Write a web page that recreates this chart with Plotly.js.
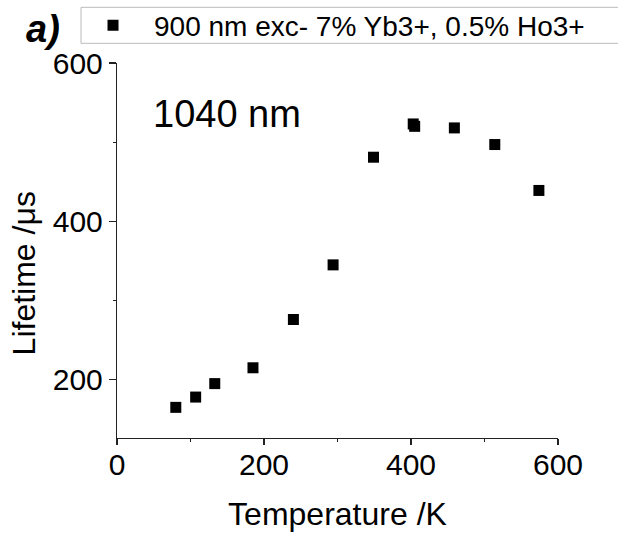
<!DOCTYPE html>
<html>
<head>
<meta charset="utf-8">
<script src="https://cdn.plot.ly/plotly-3.0.1.min.js"></script>
<style>html,body{margin:0;padding:0;background:#fff;}#chart{width:618px;height:535px;}</style>
</head>
<body>
<div id="chart"></div>
<script>
// Data
const temperatureK = [80, 107, 133, 185, 240, 294, 349, 403, 405, 459, 514, 574];
const lifetimeUs   = [165, 178, 195, 215, 276, 345, 481, 523, 520, 518, 497, 439];
const seriesName = "900 nm exc- 7% Yb3+, 0.5% Ho3+";
const xTickVals = [0, 200, 400, 600];
const yTickVals = [200, 400, 600];

const FONT = "Liberation Sans, Arial, sans-serif";

const traces = [{
  type: "scatter",
  mode: "markers",
  x: temperatureK,
  y: lifetimeUs,
  name: seriesName,
  marker: {symbol: "square", size: 11, color: "#000"}
}];

const axisCommon = {
  showline: true, linecolor: "#222", linewidth: 1.2,
  showgrid: false, zeroline: false,
  ticks: "outside", tickcolor: "#222", tickwidth: 1.2,
  tickfont: {family: FONT, size: 30, color: "#000"}
};

// Legend frame (open on the right, it runs past the figure edge as in the reference)
const boxL = -0.0816, boxR = 1.2, boxB = 1.0525, boxT = 1.1485;
const frameLine = {color: "#bbb", width: 1};

const layout = {
  width: 618, height: 535,
  margin: {l: 117, r: 60, t: 63, b: 97, pad: 0, autoexpand: false},
  paper_bgcolor: "#fff", plot_bgcolor: "#fff",
  showlegend: true,
  legend: {
    x: -0.102, y: 1.1, xanchor: "left", yanchor: "middle",
    xref: "paper", yref: "paper",
    borderwidth: 0, bordercolor: "rgba(0,0,0,0)", bgcolor: "rgba(0,0,0,0)",
    itemwidth: 72,
    font: {family: FONT, size: 28, color: "#000"}
  },
  shapes: [
    {type: "line", xref: "paper", yref: "paper", x0: boxL, x1: boxR, y0: boxT, y1: boxT, line: frameLine},
    {type: "line", xref: "paper", yref: "paper", x0: boxL, x1: boxR, y0: boxB, y1: boxB, line: frameLine},
    {type: "line", xref: "paper", yref: "paper", x0: boxL, x1: boxL, y0: boxB, y1: boxT, line: frameLine}
  ],
  xaxis: Object.assign({}, axisCommon, {
    range: [0, 600], tickvals: xTickVals, ticklen: 6,
    ticklabelstandoff: -6,
    minor: {dtick: 100, tick0: 0, ticks: "outside", ticklen: 3, tickcolor: "#222", tickwidth: 1.2},
    title: {text: "Temperature /K", font: {family: FONT, size: 32, color: "#000"}, standoff: 22}
  }),
  yaxis: Object.assign({}, axisCommon, {
    range: [126.3, 600], tickvals: yTickVals, ticklen: 7,
    ticklabelstandoff: 0,
    minor: {dtick: 100, tick0: 0, ticks: "outside", ticklen: 3, tickcolor: "#222", tickwidth: 1.2}
  }),
  annotations: [
    {text: "Lifetime /μs", xref: "paper", yref: "paper", x: -0.21, y: 0.44,
     textangle: -90, showarrow: false, xanchor: "center", yanchor: "middle",
     font: {family: FONT, size: 32, color: "#000"}},
    {text: "1040 nm", xref: "x", yref: "y", x: 149, y: 536,
     showarrow: false, xanchor: "center", yanchor: "middle",
     font: {family: FONT, size: 38, color: "#000"}},
    {text: "<b><i>a)</i></b>", xref: "paper", yref: "paper", x: -0.168, y: 1.09,
     showarrow: false, xanchor: "center", yanchor: "middle",
     font: {family: FONT, size: 38, color: "#000"}}
  ]
};

Plotly.newPlot("chart", traces, layout, {staticPlot: true, displayModeBar: false});
</script>
</body>
</html>
